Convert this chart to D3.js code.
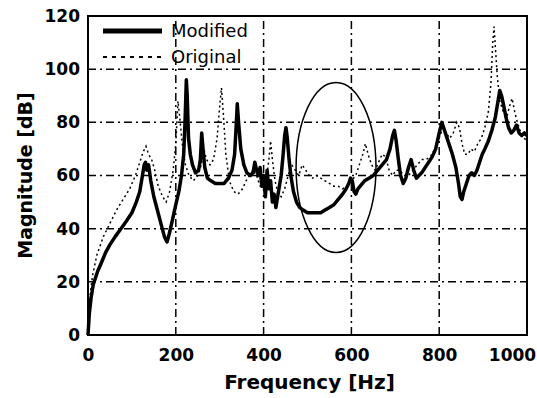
<!DOCTYPE html>
<html>
<head>
<meta charset="utf-8">
<script src="https://cdn.jsdelivr.net/npm/d3@7"></script>
<style>
  body { margin: 0; background: #fff; }
  svg { display: block; }
</style>
</head>
<body>
<div id="chart"></div>
<script>
// values
const modFreq = [0,3,7,12,16,22,30,40,50,62,75,88,100,110,118,124,128,131,134,138,143,150,158,166,174,180,185,192,200,207,213,218,221,224,226,229,233,238,245,252,256,259,262,266,272,280,290,300,310,320,328,334,338,340,343,348,355,362,370,376,380,384,388,392,396,400,404,408,412,416,420,424,428,432,436,440,444,448,451,454,458,462,468,475,482,490,500,510,520,530,540,550,560,570,580,588,594,598,602,606,610,615,620,630,640,650,660,670,680,688,694,698,702,707,712,718,724,730,736,742,748,754,760,768,776,784,792,800,806,810,816,822,830,838,844,848,852,856,862,868,874,880,886,892,898,904,912,920,928,934,938,942,946,952,958,964,970,976,982,988,994,1000];
const modMag = [0,8,14,19,21,24,27,31,34,37,40,43,46,50,54,60,64,65,62,64,58,52,47,42,37,35,38,43,49,54,60,68,80,96,90,74,68,64,61,62,66,76,70,63,59,58,57,57,57,59,62,68,80,87,80,70,64,61,60,61,65,62,60,63,56,60,52,62,55,58,50,53,48,52,56,60,67,75,78,74,66,60,54,50,48,47,46,46,46,46,47,48,49,51,53,55,57,59,58,54,53,55,56,58,59,60,62,64,66,70,75,77,73,66,60,57,59,63,66,62,59,60,61,63,65,67,70,76,80,78,75,72,68,63,57,52,51,54,57,60,61,60,62,65,68,70,73,77,82,88,92,90,87,82,78,76,77,79,76,75,76,75];

const origFreq = [0,5,10,20,35,50,65,80,95,108,118,126,132,138,145,152,160,170,178,186,194,200,205,210,216,222,230,240,250,258,264,270,278,286,294,300,304,308,314,322,332,342,352,360,368,376,384,392,400,406,412,416,420,426,432,440,448,456,464,472,480,488,496,504,512,520,530,540,550,560,570,580,590,600,610,618,626,632,638,646,654,662,670,678,686,694,702,710,720,730,740,750,760,770,780,790,800,808,816,824,832,840,846,852,858,866,872,880,888,896,904,912,918,922,925,928,932,938,946,954,960,966,972,978,986,994,1000];
const origMag = [0,15,22,30,37,42,47,51,55,60,65,69,71,68,66,62,56,52,50,54,62,72,88,80,70,64,60,58,60,64,70,66,64,66,74,86,93,84,68,58,54,53,55,58,60,62,60,56,55,58,66,73,66,58,54,52,55,60,64,62,60,64,62,60,59,60,59,58,57,56,56,55,56,58,60,64,68,72,68,64,62,65,68,67,62,60,62,62,60,60,62,64,66,66,67,70,74,78,76,74,76,80,78,72,68,68,70,69,72,74,78,84,95,110,116,108,98,88,84,82,86,89,84,80,76,74,73];

const seriesNames = ["Modified", "Original"];
const xTicks = [0, 200, 400, 600, 800, 1000];
const yTicks = [0, 20, 40, 60, 80, 100, 120];
// circled region (centre Hz, centre dB, half width Hz, half height dB)
const ring = [565, 63, 91, 32];

const width = 537, height = 398,
  margin = ({ top: 16, right: 10, bottom: 63, left: 88 });

const svg = d3.select("#chart")
  .append("svg")
  .attr("width", width)
  .attr("height", height);

const x = d3.scaleLinear().domain([0, 1000]).range([margin.left, width - margin.right]);
const y = d3.scaleLinear().domain([0, 120]).range([height - margin.bottom, margin.top]);

// grid lines (dash-dot)
const grid = svg.append("g")
  .attr("stroke", "#000")
  .attr("stroke-width", 1.5)
  .attr("stroke-dasharray", "8,4,2,4");
grid.selectAll("line.h")
  .data(yTicks.filter(d => d > 0 && d < 120))
  .join("line")
  .attr("x1", x(0)).attr("x2", x(1000))
  .attr("y1", d => y(d)).attr("y2", d => y(d));
grid.selectAll("line.v")
  .data(xTicks.filter(d => d > 0 && d < 1000))
  .join("line")
  .attr("y1", y(0)).attr("y2", y(120))
  .attr("x1", d => x(d)).attr("x2", d => x(d));

// axes
const fontAxis = "'DejaVu Sans', sans-serif";
const xAxis = svg.append("g")
  .attr("transform", `translate(0,${y(0)})`)
  .call(d3.axisBottom(x).tickValues(xTicks).tickFormat(d3.format("d")).tickSize(0).tickPadding(14));
const yAxis = svg.append("g")
  .attr("transform", `translate(${x(0)},0)`)
  .call(d3.axisLeft(y).tickValues(yTicks).tickFormat(d3.format("d")).tickSize(0).tickPadding(8));
[xAxis, yAxis].forEach(a => {
  a.select(".domain").remove();
  a.selectAll("text")
    .style("font-family", fontAxis)
    .style("font-weight", "bold")
    .style("font-size", "17px")
    .attr("fill", "#000");
});
xAxis.selectAll("text").filter(d => d === 1000).attr("dx", -15);

// original (dotted)
const lineOrig = d3.line().x((d, i) => x(origFreq[i])).y(d => y(d));
svg.append("path")
  .datum(origMag)
  .attr("d", lineOrig)
  .attr("fill", "none")
  .attr("stroke", "#000")
  .attr("stroke-width", 1.5)
  .attr("stroke-dasharray", "2,3");

// modified (thick)
const lineMod = d3.line().x((d, i) => x(modFreq[i])).y(d => y(d));
svg.append("path")
  .datum(modMag)
  .attr("d", lineMod)
  .attr("fill", "none")
  .attr("stroke", "#000")
  .attr("stroke-width", 3.5)
  .attr("stroke-linejoin", "round");

// ellipse round the changed region
svg.append("ellipse")
  .attr("cx", x(ring[0]))
  .attr("cy", y(ring[1]))
  .attr("rx", x(ring[0] + ring[2]) - x(ring[0]))
  .attr("ry", y(ring[1]) - y(ring[1] + ring[3]))
  .attr("fill", "none")
  .attr("stroke", "#000")
  .attr("stroke-width", 1.5);

// frame
svg.append("rect")
  .attr("x", x(0)).attr("y", y(120))
  .attr("width", x(1000) - x(0))
  .attr("height", y(0) - y(120))
  .attr("fill", "none")
  .attr("stroke", "#000")
  .attr("stroke-width", 2);

// legend
const legend = svg.append("g");
legend.selectAll("line")
  .data(seriesNames)
  .join("line")
  .attr("x1", 103).attr("x2", 162)
  .attr("y1", (d, i) => 31 + i * 26)
  .attr("y2", (d, i) => 31 + i * 26)
  .attr("stroke", "#000")
  .attr("stroke-width", (d, i) => i === 0 ? 5 : 2)
  .attr("stroke-dasharray", (d, i) => i === 0 ? null : "4,5");
legend.selectAll("text")
  .data(seriesNames)
  .join("text")
  .attr("x", 171)
  .attr("y", (d, i) => 31 + i * 26)
  .attr("dy", "0.35em")
  .style("font-family", fontAxis)
  .style("font-size", "18px")
  .text(d => d);

// axis titles
svg.append("text")
  .attr("x", (x(0) + x(1000)) / 2 + 2)
  .attr("y", 389)
  .attr("text-anchor", "middle")
  .style("font-family", fontAxis)
  .style("font-weight", "bold")
  .style("font-size", "20px")
  .text("Frequency [Hz]");
svg.append("text")
  .attr("transform", `translate(32,${(y(0) + y(120)) / 2}) rotate(-90)`)
  .attr("text-anchor", "middle")
  .style("font-family", fontAxis)
  .style("font-weight", "bold")
  .style("font-size", "19px")
  .text("Magnitude [dB]");
</script>
</body>
</html>
